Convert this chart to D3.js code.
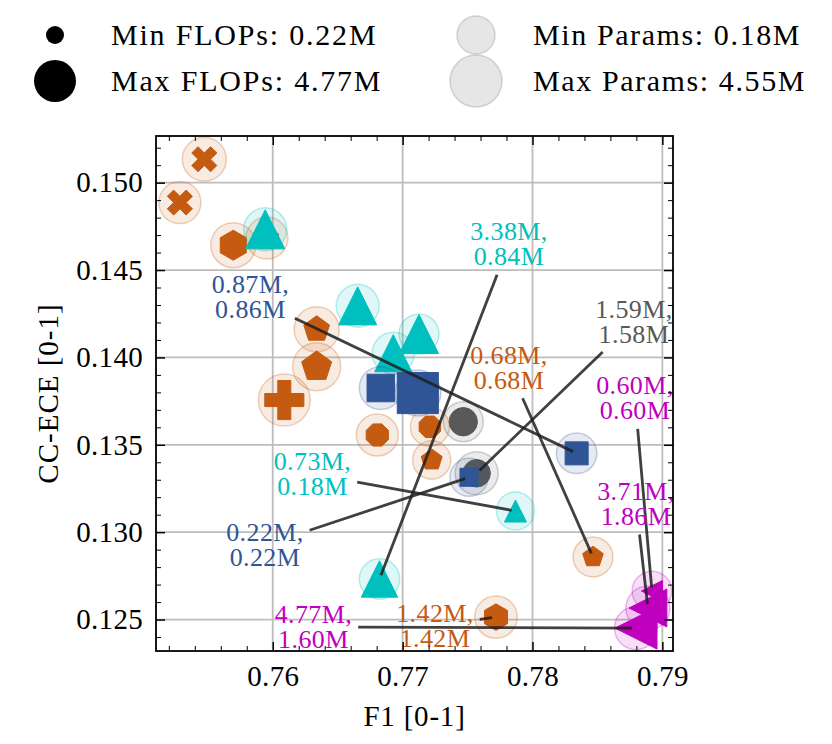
<!DOCTYPE html>
<html>
<head>
<meta charset="utf-8">
<script src="https://cdn.jsdelivr.net/npm/d3@7"></script>
<style>
  body { margin: 0; background: #fff; }
  svg text { font-family: "Liberation Serif", "Times New Roman", serif; }
</style>
</head>
<body>
<svg id="chart" width="832" height="744"></svg>
<script>
// model results: F1 vs CC-ECE, FLOPs and params in millions
const family = [
  "orange", "orange", "orange", "orange", "orange", "orange", "orange", "orange", "orange", "orange", "orange", "orange",
  "cyan", "cyan", "cyan", "cyan", "cyan", "cyan",
  "gray", "gray",
  "blue", "blue", "blue", "blue",
  "magenta", "magenta", "magenta"
];
const marker = [
  "X", "X", "h", "p", "p", "p", "P", "8", "8", "p", "p", "h",
  "^", "^", "^", "^", "^", "^",
  "o", "o",
  "s", "s", "s", "s",
  "<", "<", "<"
];
const f1 = [
  0.75473, 0.75285, 0.75696, 0.75955, 0.76338, 0.76338, 0.76089, 0.76805, 0.77210, 0.77224, 0.78466, 0.77719,
  0.75942, 0.76654, 0.77126, 0.76928, 0.76822, 0.77869,
  0.77467, 0.77570,
  0.76832, 0.77117, 0.78340, 0.77511,
  0.78920, 0.78889, 0.78797
];
const ccece = [
  0.15134, 0.14886, 0.14642, 0.14683, 0.14161, 0.13947, 0.13756, 0.13556, 0.13603, 0.13413, 0.12858, 0.12514,
  0.14733, 0.14295, 0.14134, 0.14024, 0.12732, 0.13121,
  0.13632, 0.13337,
  0.13825, 0.13796, 0.13451, 0.13314,
  0.12663, 0.12566, 0.12451
];
const flops = [
  1.18, 1.18, 2.05, 1.18, 1.51, 2.34, 4.02, 1.02, 0.90, 0.73, 0.68, 1.42,
  4.02, 3.78, 4.02, 3.54, 3.38, 0.73,
  1.73, 1.59,
  1.59, 4.53, 0.87, 0.22,
  0.60, 3.71, 4.77
];
const params = [
  1.89, 1.29, 2.20, 1.29, 2.20, 3.16, 4.55, 1.29, 0.45, 0.25, 0.68, 1.42,
  1.58, 1.58, 0.72, 1.29, 0.84, 0.18,
  0.72, 1.58,
  1.58, 2.51, 0.86, 0.22,
  0.60, 1.86, 1.60
];

// labelled points (index into the arrays above) and where their text sits
const labelPoint = [22, 16, 19, 10, 24, 17, 25, 23, 26, 11];
const labelF1    = [0.75828, 0.77819, 0.78781, 0.77819, 0.78789, 0.76306, 0.78797, 0.75940, 0.76313, 0.77249];
const labelEce   = [0.14346, 0.14649, 0.14203, 0.13942, 0.13768, 0.13333, 0.13164, 0.12926, 0.12457, 0.12463];

const xTicks = [0.76, 0.77, 0.78, 0.79];
const yTicks = [0.125, 0.130, 0.135, 0.140, 0.145, 0.150];

const palette = {
  orange: "#C55A11", cyan: "#00BFBF", blue: "#2F5597", gray: "#595959", magenta: "#BF00BF"
};
const drawOrder = ["orange", "cyan", "gray", "blue", "magenta"];

const plot = { left: 156, top: 136, right: 673, bottom: 651 };

const svg = d3.select("#chart");
svg.append("rect").attr("width", 832).attr("height", 744).attr("fill", "#fff");

const x = d3.scaleLinear().domain([0.75101, 0.79082]).range([plot.left, plot.right]);
const y = d3.scaleLinear().domain([0.12320, 0.15267]).range([plot.bottom, plot.top]);

// marker area grows linearly with FLOPs, halo area with params
const markerArea = d3.scaleLinear().domain(d3.extent(flops)).range([18 * 18, 42 * 42]);
const haloArea = d3.scaleLinear().domain(d3.extent(params)).range([38 * 38, 52 * 52]);
const markerSize = (f) => Math.sqrt(markerArea(f));
const haloSize = (p) => Math.sqrt(haloArea(p));

// matplotlib-like marker outlines, d = marker size in px
function markerPath(m, d) {
  const r = d / 2;
  const poly = (n, rot) =>
    d3.range(n).map((i) => {
      const a = rot + (i * 2 * Math.PI) / n;
      return [r * Math.sin(a), -r * Math.cos(a)];
    });
  let pts;
  switch (m) {
    case "o": {
      const p = d3.path();
      p.arc(0, 0, r, 0, 2 * Math.PI);
      p.closePath();
      return p.toString();
    }
    case "s": pts = [[-r, -r], [r, -r], [r, r], [-r, r]]; break;
    case "^": pts = [[0, -r], [r, r], [-r, r]]; break;
    case "<": pts = [[-r, 0], [r, -r], [r, r]]; break;
    case "p": pts = poly(5, 0); break;
    case "h": pts = poly(6, 0); break;
    case "8": pts = poly(8, Math.PI / 8); break;
    case "P":
      pts = [[-1, -3], [1, -3], [1, -1], [3, -1], [3, 1], [1, 1], [1, 3], [-1, 3], [-1, 1], [-3, 1], [-3, -1], [-1, -1]]
        .map(([a, b]) => [(a * d) / 6, (b * d) / 6]);
      break;
    case "X":
      pts = [[-1, -2], [0, -1], [1, -2], [2, -1], [1, 0], [2, 1], [1, 2], [0, 1], [-1, 2], [-2, 1], [-1, 0], [-2, -1]]
        .map(([a, b]) => [(a * d) / 4, (b * d) / 4]);
      break;
  }
  return "M" + pts.join("L") + "Z";
}

// grid
const grid = svg.append("g").attr("class", "grid");
grid.selectAll(".gx").data(xTicks).join("line")
  .attr("x1", (d) => x(d)).attr("x2", (d) => x(d))
  .attr("y1", plot.top).attr("y2", plot.bottom)
  .attr("stroke", "#bdbdbd").attr("stroke-width", 1.8);
grid.selectAll(".gy").data(yTicks).join("line")
  .attr("y1", (d) => y(d)).attr("y2", (d) => y(d))
  .attr("x1", plot.left).attr("x2", plot.right)
  .attr("stroke", "#bdbdbd").attr("stroke-width", 1.8);

// points: halo first, then the marker, one family at a time
const points = d3.range(f1.length).map((i) => ({ i, fam: family[i], m: marker[i] }));
const pointG = svg.append("g").attr("class", "points");
drawOrder.forEach((fam) => {
  const sub = points.filter((p) => p.fam === fam);
  const g = pointG.append("g").attr("class", fam);
  g.selectAll("circle.halo").data(sub).join("circle")
    .attr("class", "halo")
    .attr("cx", (p) => x(f1[p.i]))
    .attr("cy", (p) => y(ccece[p.i]))
    .attr("r", (p) => haloSize(params[p.i]) / 2)
    .attr("fill", palette[fam]).attr("fill-opacity", 0.12)
    .attr("stroke", palette[fam]).attr("stroke-opacity", 0.28).attr("stroke-width", 1.5);
  g.selectAll("path.mark").data(sub).join("path")
    .attr("class", "mark")
    .attr("d", (p) => markerPath(p.m, markerSize(flops[p.i])))
    .attr("transform", (p) => `translate(${x(f1[p.i])},${y(ccece[p.i])})`)
    .attr("fill", palette[fam])
    .attr("stroke", palette[fam]).attr("stroke-width", 1).attr("stroke-linejoin", "round");
});

// annotations
const annG = svg.append("g").attr("class", "annotations");
const lineG = annG.append("g");
labelPoint.forEach((pi, k) => {
  const cx = x(labelF1[k]), cy = y(labelEce[k]);
  const t = annG.append("text")
    .attr("text-anchor", "middle")
    .attr("font-size", 26).attr("letter-spacing", 0.4)
    .attr("fill", palette[family[pi]]);
  t.append("tspan").attr("x", cx).attr("y", cy - 4).text(flops[pi].toFixed(2) + "M,");
  t.append("tspan").attr("x", cx).attr("y", cy + 21).text(params[pi].toFixed(2) + "M");
  const bb = t.node().getBBox();
  const bx0 = bb.x - 3, bx1 = bb.x + bb.width + 3, by0 = bb.y - 1, by1 = bb.y + bb.height + 1;
  const sx = (bx0 + bx1) / 2, sy = (by0 + by1) / 2;
  const px = x(f1[pi]), py = y(ccece[pi]);
  const dx = px - sx, dy = py - sy;
  const len = Math.hypot(dx, dy);
  const tx = dx > 0 ? (bx1 - sx) / dx : dx < 0 ? (bx0 - sx) / dx : Infinity;
  const ty = dy > 0 ? (by1 - sy) / dy : dy < 0 ? (by0 - sy) / dy : Infinity;
  const tt = Math.min(tx, ty) + 3 / len;
  const te = 1 - 4 / len;
  lineG.append("line")
    .attr("x1", sx + dx * tt).attr("y1", sy + dy * tt)
    .attr("x2", sx + dx * te).attr("y2", sy + dy * te)
    .attr("stroke", "#1f1f1f").attr("stroke-opacity", 0.85)
    .attr("stroke-width", 2.8);
});

// axes: ticks point inward on all four sides
const xMinor = d3.range(0.752, 0.7905, 0.002).filter((v) => !xTicks.some((t) => Math.abs(t - v) < 1e-6));
const yMinor = d3.range(0.124, 0.1525, 0.001).filter((v) => !yTicks.some((t) => Math.abs(t - v) < 1e-6));

function styleAxis(g) {
  g.select(".domain").remove();
  g.selectAll(".tick line").attr("stroke", "#000").attr("stroke-width", 1.5);
  g.selectAll("text").attr("font-size", 29).attr("fill", "#000").attr("letter-spacing", 0.3)
    .style("font-family", '"Liberation Serif", serif');
}
function minorAxis(axis, g) {
  g.call(axis);
  g.select(".domain").remove();
  g.selectAll(".tick line").attr("stroke", "#000").attr("stroke-width", 1);
  g.selectAll("text").remove();
}

const axisB = svg.append("g").attr("transform", `translate(0,${plot.bottom})`);
axisB.call(d3.axisBottom(x).tickValues(xTicks).tickFormat(d3.format(".2f")).tickSize(-9).tickPadding(14));
styleAxis(axisB);
minorAxis(d3.axisBottom(x).tickValues(xMinor).tickSize(-5), svg.append("g").attr("transform", `translate(0,${plot.bottom})`));

const axisT = svg.append("g").attr("transform", `translate(0,${plot.top})`);
axisT.call(d3.axisTop(x).tickValues(xTicks).tickSize(-9).tickFormat(""));
styleAxis(axisT);
minorAxis(d3.axisTop(x).tickValues(xMinor).tickSize(-5), svg.append("g").attr("transform", `translate(0,${plot.top})`));

const axisL = svg.append("g").attr("transform", `translate(${plot.left},0)`);
axisL.call(d3.axisLeft(y).tickValues(yTicks).tickFormat(d3.format(".3f")).tickSize(-9).tickPadding(13));
styleAxis(axisL);
minorAxis(d3.axisLeft(y).tickValues(yMinor).tickSize(-5), svg.append("g").attr("transform", `translate(${plot.left},0)`));

const axisR = svg.append("g").attr("transform", `translate(${plot.right},0)`);
axisR.call(d3.axisRight(y).tickValues(yTicks).tickSize(-9).tickFormat(""));
styleAxis(axisR);
minorAxis(d3.axisRight(y).tickValues(yMinor).tickSize(-5), svg.append("g").attr("transform", `translate(${plot.right},0)`));

// frame
svg.append("rect")
  .attr("x", plot.left).attr("y", plot.top)
  .attr("width", plot.right - plot.left).attr("height", plot.bottom - plot.top)
  .attr("fill", "none").attr("stroke", "#000").attr("stroke-width", 1.8);

// axis titles
svg.append("text")
  .attr("x", (plot.left + plot.right) / 2).attr("y", 726)
  .attr("text-anchor", "middle").attr("font-size", 29).attr("letter-spacing", 0.8)
  .text("F1 [0-1]");
svg.append("text")
  .attr("transform", `translate(48,${(plot.top + plot.bottom) / 2}) rotate(-90)`)
  .attr("text-anchor", "middle").attr("dominant-baseline", "central")
  .attr("font-size", 29).attr("letter-spacing", 1)
  .text("CC-ECE [0-1]");

// legend: marker size = FLOPs, halo size = params
const fExt = d3.extent(flops), pExt = d3.extent(params);
const legendRows = [35, 81];
const legend = svg.append("g").attr("class", "legend");
fExt.forEach((f, k) => {
  legend.append("circle")
    .attr("cx", 55).attr("cy", legendRows[k]).attr("r", markerSize(f) / 2)
    .attr("fill", "#000");
  legend.append("text")
    .attr("x", 111).attr("y", legendRows[k] + 10)
    .attr("font-size", 30).attr("letter-spacing", 1.8)
    .text(`${k ? "Max" : "Min"} FLOPs: ${f.toFixed(2)}M`);
});
pExt.forEach((p, k) => {
  legend.append("circle")
    .attr("cx", 476).attr("cy", legendRows[k]).attr("r", haloSize(p) / 2)
    .attr("fill", "#808080").attr("fill-opacity", 0.2)
    .attr("stroke", "#808080").attr("stroke-opacity", 0.3).attr("stroke-width", 1.5);
  legend.append("text")
    .attr("x", 533).attr("y", legendRows[k] + 10)
    .attr("font-size", 30).attr("letter-spacing", 1.6)
    .text(`${k ? "Max" : "Min"} Params: ${p.toFixed(2)}M`);
});
</script>
</body>
</html>
